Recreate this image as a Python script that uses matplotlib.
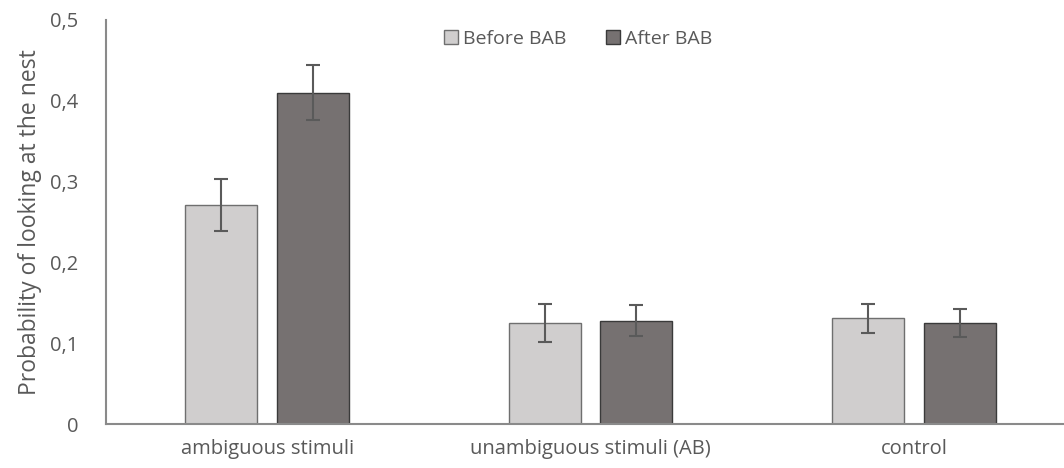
import matplotlib
matplotlib.use("Agg")
import matplotlib.pyplot as plt
import numpy as np

categories = ["ambiguous stimuli", "unambiguous stimuli (AB)", "control"]
before = [0.271, 0.125, 0.131]
before_err = [0.032, 0.023, 0.018]
after = [0.410, 0.128, 0.125]
after_err = [0.034, 0.019, 0.017]
yticks = [0, 0.1, 0.2, 0.3, 0.4, 0.5]
ytick_labels = ["0", "0,1", "0,2", "0,3", "0,4", "0,5"]

plt.rcParams['font.family'] = ['Open Sans', 'DejaVu Sans']
txt = "#595959"

fig = plt.figure(figsize=(10.64, 4.68), dpi=100)
ax = fig.add_axes([106/1064, 1-424/468, (1064-106)/1064, (424-20)/468])

x = np.arange(len(categories))
w = 0.2226
off = 0.142
ax.bar(x - off, before, w, color="#D0CECE", edgecolor="#6f6f6f", linewidth=1.0,
       label="Before BAB", zorder=2)
ax.bar(x + off, after, w, color="#767171", edgecolor="#3a3a3a", linewidth=1.0,
       label="After BAB", zorder=2)
ax.errorbar(x - off, before, yerr=before_err, fmt="none", ecolor="#5a5a5a",
            elinewidth=1.5, capsize=5, capthick=1.5, zorder=3)
ax.errorbar(x + off, after, yerr=after_err, fmt="none", ecolor="#5a5a5a",
            elinewidth=1.5, capsize=5, capthick=1.5, zorder=3)

ax.set_xlim(-0.498, 2.464)
ax.set_ylim(0, 0.5)
ax.set_yticks(yticks)
ax.set_yticklabels(ytick_labels)
ax.set_xticks(x)
ax.set_xticklabels(categories)
ax.tick_params(axis="both", length=0, labelsize=14.5, colors=txt)
ax.tick_params(axis="y", pad=20)
ax.tick_params(axis="x", pad=11)
for s in ["top", "right"]:
    ax.spines[s].set_visible(False)
for s in ["left", "bottom"]:
    ax.spines[s].set_color("#8a8a8a")
    ax.spines[s].set_linewidth(1.5)
ax.set_ylabel("Probability of looking at the nest", fontsize=16.5, color=txt, labelpad=6)

leg = ax.legend(loc="upper center", ncol=2, frameon=False,
                fontsize=14, handlelength=0.75, handleheight=0.75,
                handletextpad=0.25, columnspacing=2.0, labelcolor=txt)
leg.set_bbox_to_anchor((578/1064, 1 - 12/468), transform=fig.transFigure)

fig.savefig("out.png", dpi=100)
